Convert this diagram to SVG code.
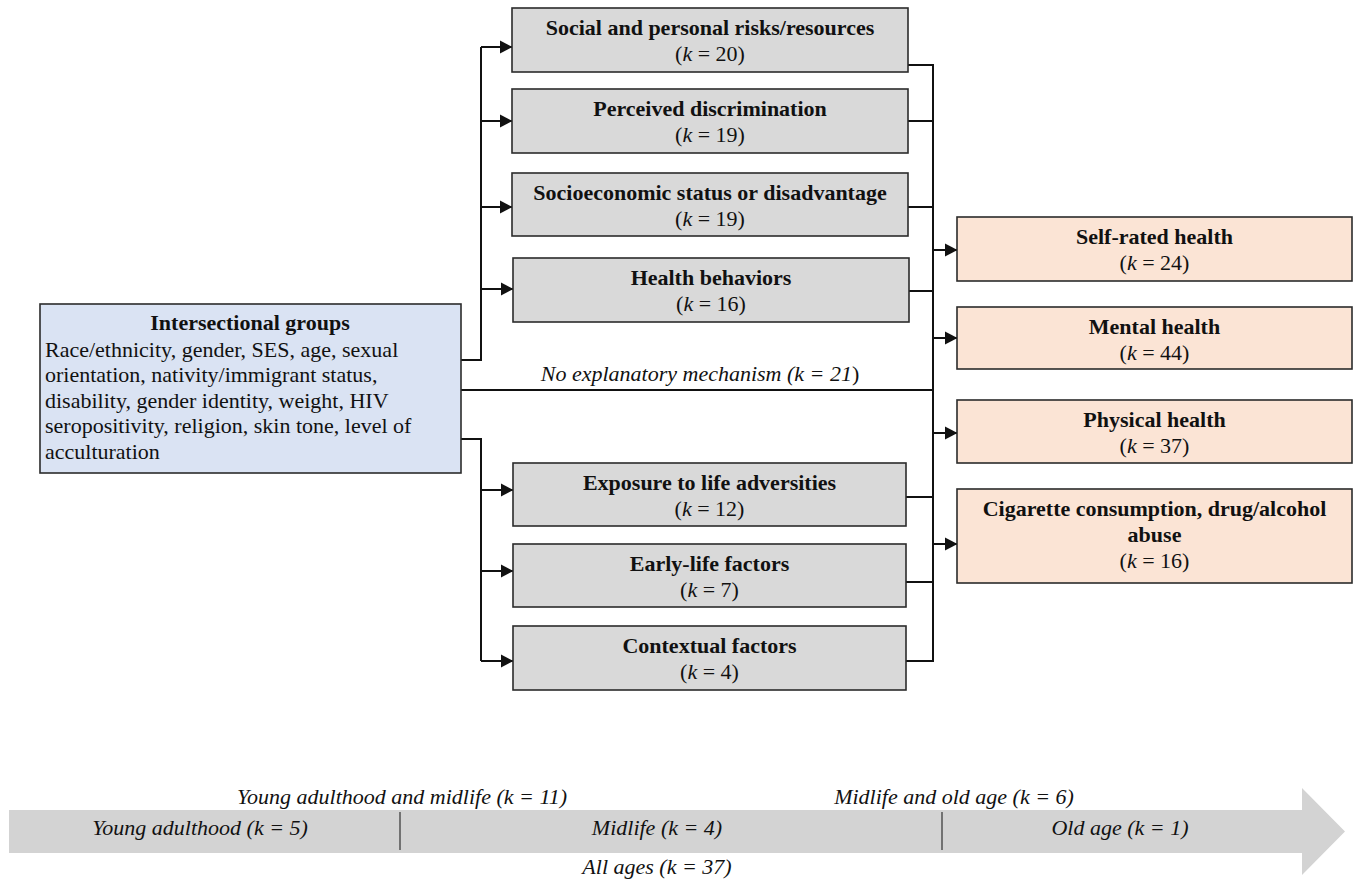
<svg xmlns="http://www.w3.org/2000/svg" width="1360" height="882" viewBox="0 0 1360 882">
<style>
text{font-family:"Liberation Serif","Times New Roman",serif;font-size:22px;fill:#111}
.b{font-weight:bold}
.c{text-anchor:middle}
.i{font-style:italic}
.box{stroke:#2b2b2b;stroke-width:1.6}
.g{fill:#d9d9d9}
.p{fill:#fbe4d5}
.bl{fill:#dae3f3}
.ln{fill:none;stroke:#111;stroke-width:2}
</style>
<defs>
<marker id="ah" markerWidth="14" markerHeight="14" refX="12" refY="7" orient="auto" markerUnits="userSpaceOnUse">
<path d="M0,0.5 L12.5,7 L0,13.5 Z" fill="#111"/>
</marker>
</defs>
<rect width="1360" height="882" fill="#fff"/>

<g id="connectors">
<path class="ln" d="M461,360 H481 V47"/>
<path class="ln" d="M481,47 H512" marker-end="url(#ah)"/>
<path class="ln" d="M481,121 H512" marker-end="url(#ah)"/>
<path class="ln" d="M481,207 H512" marker-end="url(#ah)"/>
<path class="ln" d="M481,289 H513" marker-end="url(#ah)"/>
<path class="ln" d="M461,439 H481 V661"/>
<path class="ln" d="M481,490 H513" marker-end="url(#ah)"/>
<path class="ln" d="M481,571 H513" marker-end="url(#ah)"/>
<path class="ln" d="M481,661 H513" marker-end="url(#ah)"/>
<path class="ln" d="M461,390 H933"/>
<path class="ln" d="M908,65 H933 V661 H906"/>
<path class="ln" d="M908,121 H933"/>
<path class="ln" d="M908,207 H933"/>
<path class="ln" d="M909,291 H933"/>
<path class="ln" d="M906,497 H933"/>
<path class="ln" d="M906,582 H933"/>
<path class="ln" d="M933,250 H957" marker-end="url(#ah)"/>
<path class="ln" d="M933,338 H957" marker-end="url(#ah)"/>
<path class="ln" d="M933,433 H957" marker-end="url(#ah)"/>
<path class="ln" d="M933,544 H957" marker-end="url(#ah)"/>
<text class="i c" x="700" y="381">No explanatory mechanism (k = 21<tspan font-style="normal">)</tspan></text>
</g>

<g id="intersectional-groups">
<rect class="box bl" x="40" y="304" width="421" height="169"/>
<text class="b c" x="250" y="330">Intersectional groups</text>
<text x="45" y="357">Race/ethnicity, gender, SES, age, sexual</text>
<text x="45" y="382">orientation, nativity/immigrant status,</text>
<text x="45" y="408">disability, gender identity, weight, HIV</text>
<text x="45" y="433">seropositivity, religion, skin tone, level of</text>
<text x="45" y="459">acculturation</text>
</g>

<g id="social-personal">
<rect class="box g" x="512" y="8" width="396" height="64"/>
<text class="b c" x="710" y="35">Social and personal risks/resources</text>
<text class="c" x="710" y="61">(<tspan class="i">k</tspan> = 20)</text>
</g>
<g id="perceived-discrimination">
<rect class="box g" x="512" y="89" width="396" height="64"/>
<text class="b c" x="710" y="116">Perceived discrimination</text>
<text class="c" x="710" y="142">(<tspan class="i">k</tspan> = 19)</text>
</g>
<g id="ses">
<rect class="box g" x="512" y="173" width="396" height="63"/>
<text class="b c" x="710" y="200">Socioeconomic status or disadvantage</text>
<text class="c" x="710" y="226">(<tspan class="i">k</tspan> = 19)</text>
</g>
<g id="health-behaviors">
<rect class="box g" x="513" y="258" width="396" height="64"/>
<text class="b c" x="711" y="285">Health behaviors</text>
<text class="c" x="711" y="311">(<tspan class="i">k</tspan> = 16)</text>
</g>
<g id="life-adversities">
<rect class="box g" x="513" y="463" width="393" height="63"/>
<text class="b c" x="709.5" y="490">Exposure to life adversities</text>
<text class="c" x="709.5" y="516">(<tspan class="i">k</tspan> = 12)</text>
</g>
<g id="early-life">
<rect class="box g" x="513" y="544" width="393" height="63"/>
<text class="b c" x="709.5" y="571">Early-life factors</text>
<text class="c" x="709.5" y="597">(<tspan class="i">k</tspan> = 7)</text>
</g>
<g id="contextual">
<rect class="box g" x="513" y="626" width="393" height="64"/>
<text class="b c" x="709.5" y="653">Contextual factors</text>
<text class="c" x="709.5" y="679">(<tspan class="i">k</tspan> = 4)</text>
</g>

<g id="self-rated">
<rect class="box p" x="957" y="217" width="395" height="64"/>
<text class="b c" x="1154.5" y="244">Self-rated health</text>
<text class="c" x="1154.5" y="270">(<tspan class="i">k</tspan> = 24)</text>
</g>
<g id="mental">
<rect class="box p" x="957" y="307" width="395" height="62"/>
<text class="b c" x="1154.5" y="334">Mental health</text>
<text class="c" x="1154.5" y="360">(<tspan class="i">k</tspan> = 44)</text>
</g>
<g id="physical">
<rect class="box p" x="957" y="400" width="395" height="63"/>
<text class="b c" x="1154.5" y="427">Physical health</text>
<text class="c" x="1154.5" y="453">(<tspan class="i">k</tspan> = 37)</text>
</g>
<g id="substance">
<rect class="box p" x="957" y="489" width="395" height="94"/>
<text class="b c" x="1154.5" y="516">Cigarette consumption, drug/alcohol</text>
<text class="b c" x="1154.5" y="542">abuse</text>
<text class="c" x="1154.5" y="568">(<tspan class="i">k</tspan> = 16)</text>
</g>

<g id="age-timeline">
<path d="M9,810 H1302 V788 L1345,831.5 L1302,875 V853 H9 Z" fill="#d3d3d3"/>
<path d="M400,812 V850 M942,812 V850" stroke="#333" stroke-width="1.2"/>
<text class="i c" x="402" y="804">Young adulthood and midlife (k = 11)</text>
<text class="i c" x="954" y="804">Midlife and old age (k = 6)</text>
<text class="i c" x="200" y="835">Young adulthood (k = 5)</text>
<text class="i c" x="657" y="835">Midlife (k = 4)</text>
<text class="i c" x="1120" y="835">Old age (k = 1)</text>
<text class="i c" x="657" y="874">All ages (k = 37)</text>
</g>
</svg>
